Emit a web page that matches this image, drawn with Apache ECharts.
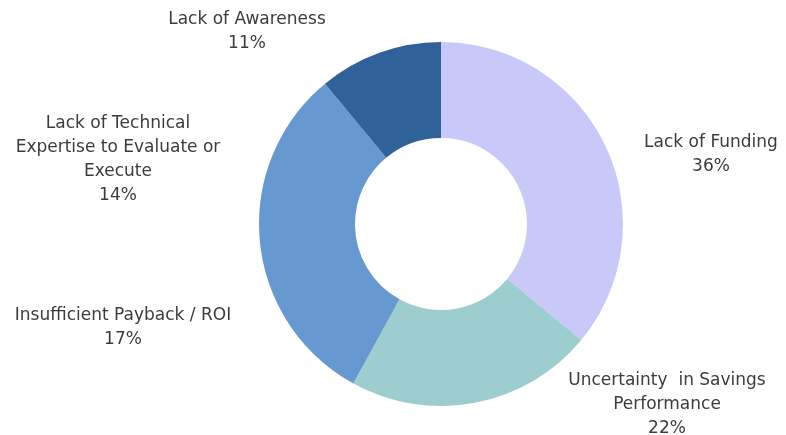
<!DOCTYPE html>
<html>
<head>
<meta charset="utf-8" />
<title>Barriers</title>
<script type="text/javascript" src="https://cdn.jsdelivr.net/npm/echarts@6/dist/echarts.min.js"></script>
<style>
  html, body { margin: 0; padding: 0; background: #fff; }
  #main { width: 786px; height: 435px; }
</style>
</head>
<body>
<div id="main"></div>
<script>
// data
var names = ['Lack of Funding', 'Uncertainty  in Savings\nPerformance', 'Insufficient Payback / ROI',
             'Lack of Technical\nExpertise to Evaluate or\nExecute', 'Lack of Awareness'];
var values = [36, 22, 17, 14, 11];
var colors = ['#c8c8f9', '#9dcdce', '#6699cf', '#6699cf', '#2f6298'];

// label centre positions (px)
var labelPos = [[711, 155], [667, 405], [123, 328], [118, 160], [247, 32]];

var chart = echarts.init(document.getElementById('main'));

var data = [];
for (var i = 0; i < values.length; i++) {
  data.push({ name: names[i], value: values[i], itemStyle: { color: colors[i] } });
}

chart.setOption({
  animation: false,
  series: [{
    type: 'pie',
    center: [441, 224],
    radius: [86, 182],
    startAngle: 90,
    clockwise: true,
    data: data,
    itemStyle: {
      borderWidth: 0
    },
    label: {
      show: true,
      formatter: '{b}\n{c}%',
      fontFamily: 'DejaVu Sans',
      fontSize: 17,
      lineHeight: 24,
      color: '#3c3c3c',
      align: 'center',
      overflow: 'none'
    },
    labelLine: { show: false },
    labelLayout: function (params) {
      var p = labelPos[params.dataIndex];
      return { x: p[0], y: p[1], align: 'center', verticalAlign: 'middle' };
    },
    emphasis: { disabled: true }
  }]
});
</script>
</body>
</html>
